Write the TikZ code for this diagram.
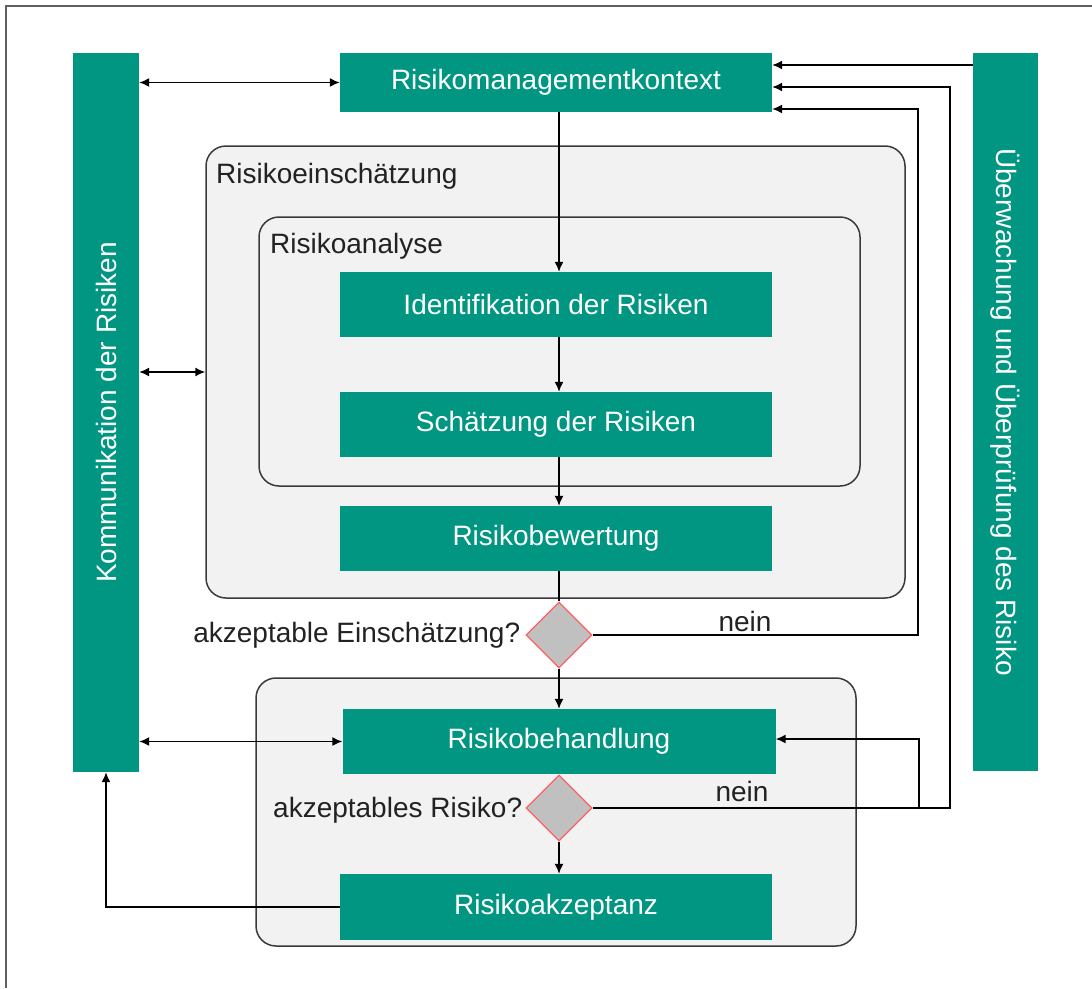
\documentclass[tikz,border=0pt]{standalone}
\usepackage{fontspec}
\setmainfont{Liberation Sans}
\usetikzlibrary{arrows.meta,shapes.geometric}
\definecolor{tealc}{HTML}{009682}
\definecolor{boxfill}{HTML}{F2F2F2}
\definecolor{boxline}{HTML}{3A3A3A}
\definecolor{diafill}{HTML}{C0C0C0}
\definecolor{diared}{HTML}{FF6060}
\definecolor{txt}{HTML}{222222}
\tikzset{
  tbox/.style={fill=tealc, draw=none, text=white, inner sep=0pt, font=\fontsize{28}{32}\selectfont},
  group/.style={fill=boxfill, draw=boxline, line width=1.5pt, rounded corners=20pt},
  dia/.style={diamond, fill=diafill, draw=diared, line width=1.2pt, inner sep=0pt, minimum width=66pt, minimum height=66pt},
  lbl/.style={text=txt, inner sep=0pt, font=\fontsize{28}{32}\selectfont},
  conn/.style={line width=1.5pt, draw=black},
  arr/.style={conn, -{Latex[length=10pt,width=9pt]}},
  darr/.style={conn, {Latex[length=10pt,width=9pt]}-{Latex[length=10pt,width=9pt]}}
}
\begin{document}
\begin{tikzpicture}[x=1pt,y=-1pt]
\useasboundingbox (0,0) rectangle (1092,988);
% frame (left and top edges)
\draw[draw=boxline!80, line width=1.5pt] (6,988) -- (6,6) -- (1092,6);

% group boxes
\node[group, minimum width=699pt, minimum height=452pt, inner sep=0pt] (einsch) at (555.5,372) {};
\node[group, minimum width=601pt, minimum height=269pt, inner sep=0pt] (analyse) at (559.5,351.5) {};
\node[group, minimum width=600pt, minimum height=268pt, inner sep=0pt] (lower) at (556,812) {};
\node[lbl, anchor=base west] (leinsch) at (216,183) {Risikoeinschätzung};
\node[lbl, anchor=base west] (lanalyse) at (270,253) {Risikoanalyse};

% side bars
\node[tbox, minimum width=66pt, minimum height=719pt] (komm) at (106,412.5) {};
\node[text=white, font=\fontsize{28}{32}\selectfont, rotate=90] (kommt) at (komm.center) {Kommunikation der Risiken};
\node[tbox, minimum width=65pt, minimum height=718pt] (ueber) at (1005.5,412) {};
\node[text=white, font=\fontsize{28}{32}\selectfont, rotate=-90] (uebert) at (ueber.center) {Überwachung und Überprüfung des Risiko};

% main boxes
\node[tbox, minimum width=432pt, minimum height=59pt] (ctx) at (556,82.5) {Risikomanagementkontext};
\node[tbox, minimum width=432pt, minimum height=65pt] (ident) at (556,304.5) {Identifikation der Risiken};
\node[tbox, minimum width=432pt, minimum height=65pt] (schaetz) at (556,424.5) {Schätzung der Risiken};
\node[tbox, minimum width=432pt, minimum height=65pt] (bewert) at (556,538.5) {Risikobewertung};
\node[tbox, minimum width=433pt, minimum height=65pt] (behandl) at (559,741.5) {Risikobehandlung};
\node[tbox, minimum width=432pt, minimum height=66pt] (akzept) at (556,907) {Risikoakzeptanz};

% decisions
\node[dia] (d1) at (559,635) {};
\node[dia] (d2) at (559,808) {};
\node[lbl, anchor=east] (ld1) at ([xshift=-5pt]d1.west) {akzeptable Einschätzung?};
\node[lbl, anchor=east] (ld2) at ([xshift=-3pt,yshift=-2pt]d2.west) {akzeptables Risiko?};
\node[lbl] (nein1) at (745,621) {nein};
\node[lbl] (nein2) at (742,791) {nein};

% helper coordinates
\coordinate (y65) at (0,65);
\coordinate (r1) at (918,109);
\coordinate (r2) at (950,87);
\coordinate (r3) at (919,739);

% connectors
\draw[darr] (komm.east |- ctx.west) -- (ctx.west);
\draw[darr] (komm.east |- einsch.west) -- (einsch.west);
\draw[darr] (komm.east |- behandl.west) -- (behandl.west);

\draw[arr] (ctx.south -| d1) -- (ident.north -| d1);
\draw[arr] (ident.south -| d1) -- (schaetz.north -| d1);
\draw[arr] (schaetz.south -| d1) -- (bewert.north -| d1);
\draw[conn] (bewert.south -| d1) -- (d1.north);
\draw[arr] (d1.south) -- (behandl.north -| d1);
\draw[arr] (d2.south) -- (akzept.north -| d2);

\draw[arr] (ueber.west |- y65) -- (ctx.east |- y65);
\draw[arr] (d1.east) -| (r1) -- (ctx.east |- r1);
\draw[arr] (d2.east) -| (r2) -- (ctx.east |- r2);
\draw[arr] (r3 |- d2.east) -- (r3) -- (behandl.east |- r3);
\draw[arr] (akzept.west) -| (komm.south);
\end{tikzpicture}
\end{document}
